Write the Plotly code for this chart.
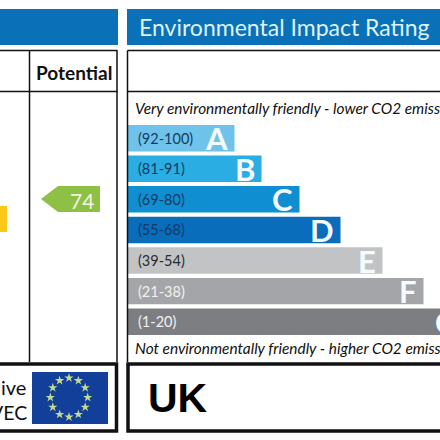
import math
import plotly.graph_objects as go

bands = ["A", "B", "C", "D", "E", "F", "G"]
ranges = ["(92-100)", "(81-91)", "(69-80)", "(55-68)", "(39-54)", "(21-38)", "(1-20)"]
bar_lengths = [107, 134, 172, 213, 255, 296, 337]
bar_colors = ["#6fc3ea", "#29ade3", "#0f8fd2", "#0a6dbb", "#c2c3c5", "#a4a5a8", "#7d7e82"]
range_colors = ["#163b5e", "#163b5e", "#163b5e", "#123a6a", "#2b2b2b", "#f1f1f1", "#f1f1f1"]
potential_rating = "74"
header_title = "Environmental Impact Rating"
top_note = "Very environmentally friendly - lower CO2 emissions"
bottom_note = "Not environmentally friendly - higher CO2 emissions"
BLUE = "#0a70b8"
FONT = "Lato"

H = 440.0
X_MAX = 312.5


def rect(x0, y0, x1, y1, fill=None, line=None, width=0):
    return dict(type="rect", xref="x2", yref="y2", x0=x0, x1=x1, y0=y0, y1=y1,
                fillcolor=fill or "rgba(0,0,0,0)", line=dict(color=line or "rgba(0,0,0,0)", width=width), layer="below")


def seg(x0, y0, x1, y1, width=1.5, color="#111111"):
    return dict(type="line", xref="x2", yref="y2", x0=x0, x1=x1, y0=y0, y1=y1,
                line=dict(color=color, width=width), layer="below")


def label(x, y, text, size, color="#111111", anchor="left", bold=False, italic=False, family=FONT):
    t = text
    if bold:
        t = f"<b>{t}</b>"
    if italic:
        t = f"<i>{t}</i>"
    return dict(xref="x2", yref="y2", x=x, y=y, text=t, showarrow=False, xanchor=anchor, yanchor="middle",
                font=dict(size=size, color=color, family=family), align=anchor)


shapes = [
    rect(-5, 9, 118, 45, fill=BLUE),
    rect(127, 9, 445, 45, fill=BLUE),
    seg(-5, 50.5, 117.5, 50.5), seg(-5, 91.5, 117.5, 91.5),
    seg(29.5, 50.5, 29.5, 362), seg(117, 50.5, 117, 362),
    seg(127.5, 50.5, 445, 50.5), seg(127.5, 91.5, 445, 91.5),
    seg(127.5, 50.5, 127.5, 362),
    rect(-5, 364, 116.5, 431, line="#111111", width=3.5),
    rect(128, 364, 450, 431, line="#111111", width=3.5),
    rect(32, 372, 108, 424, fill="#123f9a"),
    rect(-5, 206, 7, 232, fill="#fbc81c"),
    dict(type="path", xref="x2", yref="y2", path="M 41 199 L 58 186 L 100 186 L 100 212 L 58 212 Z",
         fillcolor="#8dc044", line=dict(width=0), layer="below"),
]

annotations = [
    label(136.5, 27, header_title, 23, "#dff3fb"),
    label(-44, 72.5, "Current", 19, "#111111", bold=True),
    label(73.5, 72.5, "Potential", 19, "#111111", anchor="center", bold=True),
    label(133, 108, top_note, 15.4, "#111111", italic=True),
    label(133, 348, bottom_note, 15.4, "#111111", italic=True),
    label(82, 200, potential_rating, 21, "#f0f6e0", anchor="center"),
    label(28, 387, "ive", 20, "#111111", anchor="right"),
    label(29, 412, "VEC", 19.5, "#111111", anchor="right"),
    label(146, 398, "UK", 41, "#000000", bold=True, family="Liberation Sans"),
]

# Range labels at the start of each bar; the grade letter sits at the bar's end
for band, rng, col, length in zip(bands, ranges, range_colors, bar_lengths):
    annotations.append(dict(xref="x", yref="y", x=0, y=band, text=rng, showarrow=False, xanchor="left",
                            xshift=8, font=dict(size=14.5, color=col, family=FONT)))
    anchor_x = min(length, X_MAX)
    annotations.append(dict(xref="x", yref="y", x=anchor_x, y=band, text=f"<b>{band}</b>", showarrow=False,
                            xanchor="right", xshift=-5 + (length - anchor_x),
                            font=dict(size=31, color="#f4fbff", family=FONT)))

fig = go.Figure()
fig.add_trace(go.Bar(
    y=bands, x=bar_lengths, orientation="h", marker=dict(color=bar_colors, line=dict(width=0)),
    cliponaxis=True, hoverinfo="skip", showlegend=False,
))

angles = [math.radians(30 * i) for i in range(12)]
fig.add_trace(go.Scatter(
    x=[69 + 18.7 * math.cos(a) for a in angles], y=[397.5 + 19.5 * math.sin(a) for a in angles],
    xaxis="x2", yaxis="y2", mode="markers", marker=dict(symbol="star", size=7, color="#c3dc8c", line=dict(width=0)),
    hoverinfo="skip", showlegend=False,
))

fig.update_layout(
    width=440, height=440, margin=dict(l=0, r=0, t=0, b=0, pad=0), autosize=False,
    paper_bgcolor="white", plot_bgcolor="rgba(0,0,0,0)", bargap=0.134,
    shapes=shapes, annotations=annotations,
    xaxis=dict(domain=[127.5 / H, 1], range=[0, X_MAX], visible=False, fixedrange=True, anchor="y"),
    yaxis=dict(domain=[1 - 337 / H, 1 - 122.9 / H], categoryorder="array", categoryarray=bands[::-1],
               range=[-0.5, 6.5], visible=False, fixedrange=True, anchor="x"),
    xaxis2=dict(domain=[0, 1], range=[0, H], visible=False, anchor="y2", fixedrange=True),
    yaxis2=dict(domain=[0, 1], range=[H, 0], visible=False, anchor="x2", fixedrange=True),
)

fig.write_html("out.html", config=dict(displayModeBar=False),
               post_script="document.body.style.margin='0';document.body.style.overflow='hidden';")
